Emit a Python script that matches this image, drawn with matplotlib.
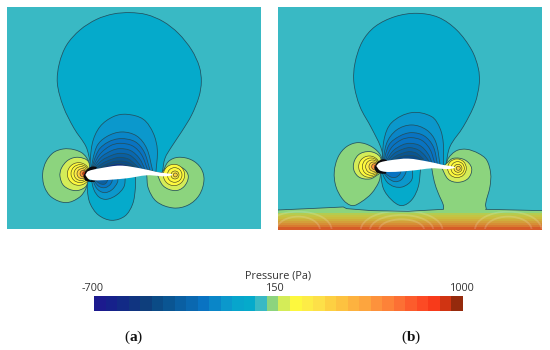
import matplotlib
matplotlib.use("Agg")
import matplotlib.pyplot as plt
import numpy as np
from matplotlib.path import Path
from matplotlib.patches import PathPatch, Circle, Arc

plt.rcParams["font.family"] = ["Open Sans", "DejaVu Sans"]
plt.rcParams["mathtext.fontset"] = "custom"
plt.rcParams["mathtext.bf"] = "Liberation Serif:bold"

# colour bar, one entry per pressure band
band_colors = ["#1c1a8e", "#16218b", "#122a86", "#103480", "#0e3e7c", "#0b4b86", "#0a5592",
               "#0a5fa2", "#0a68b0", "#0973c2", "#0a86c8", "#0b98cc", "#07a5cc", "#05aacb",
               "#39b9c4", "#8cd47e", "#d4ec58", "#fdf83e", "#fdec46", "#fde048", "#fdd042",
               "#fdc240", "#fdb23f", "#fda53e", "#fd923c", "#fd8238", "#fc7034", "#fc5c2c",
               "#fc4a24", "#f83a1a", "#d03412", "#952a0c"]
bar_ticks = ["-700", "150", "1000"]
bar_title = "Pressure (Pa)"

# panel a, contours (band index, outline)
a_contours = [
    (13, [(285,522),(272,490),(258,440),(222,385),(190,320),(172,250),(178,190),(200,135),(240,90),(290,58),(340,42),(390,38),
          (440,44),(490,65),(535,100),(575,150),(598,200),(604,245),(597,290),(575,345),(545,395),(515,440),(495,475),(487,518)]),
    (13, [(262,530),(262,570),(270,610),(295,645),(335,661),(375,648),(398,612),(406,565),(406,530)]),
    (11, [(268,520),(277,430),(300,380),(340,350),(380,343),(430,358),(460,400),(472,450),(468,515)]),
    (10, [(270,520),(290,440),(320,410),(365,396),(410,408),(440,445),(458,512)]),
    (9,  [(270,520),(295,452),(325,426),(362,416),(405,425),(432,455),(450,510)]),
    (9,  [(270,520),(298,465),(330,438),(360,430),(398,438),(425,465),(443,510)]),
    (8,  [(270,520),(302,473),(335,452),(360,446),(392,452),(418,475),(436,510)]),
    (7,  [(270,520),(305,482),(338,465),(360,460),(388,465),(410,483),(428,508)]),
    (6,  [(270,520),(308,490),(340,476),(360,472),(385,477),(402,490),(418,506)]),
    (5,  [(270,520),(312,496),(340,485),(360,483),(382,486),(405,500)]),
    (3,  [(270,520),(315,500),(345,492),(362,491),(395,500)]),
    (11, [(272,530),(282,570),(298,592),(320,598),(350,585),(372,560),(376,530)]),
    (10, [(275,530),(290,565),(312,578),(335,570),(352,548),(354,530)]),
    (9,  [(275,530),(295,558),(315,563),(332,552),(340,530)]),
    (7,  [(275,530),(298,550),(315,552),(326,535)]),
    (15, [(268,525),(268,490),(250,462),(222,449),(190,447),(160,458),(138,485),(128,520),(133,560),(155,592),(198,608),(238,592),(258,565),(264,535)]),
    (15, [(440,522),(445,565),(470,605),(520,624),(565,615),(598,585),(612,540),(603,505),(575,480),(535,472),(505,485),(487,520)]),
    (16, [(268,525),(265,485),(235,472),(205,480),(184,505),(180,530),(192,558),(225,572),(255,562),(266,540)]),
    (16, [(470,520),(490,558),(525,572),(552,560),(565,530),(552,507),(520,497),(495,507),(485,520)]),
]
a_rings_left = [(17,236,522,34),(17,240,521,27),(18,243,521,21),(20,246,521,15),(24,250,521,10),(30,254,521,6)]
a_rings_right = [(17,522,525,32),(17,524,525,22),(18,525,525,12),(20,526,525,6)]
a_foil = [(256,525),(264,514),(300,505),(360,497),(420,505),(470,516),(515,526),(440,526),(380,535),(300,541),(268,538),(256,525)]
a_nose = [(250,530),(258,512),(275,500),(290,504),(264,515),(258,526),(268,540),(285,543),(272,546),(256,542)]

# panel b
b_contours = [
    (13, [(325,505),(320,450),(290,385),(255,320),(237,250),(240,190),(262,125),(300,80),(360,50),(425,40),(490,52),(545,90),
          (590,150),(610,205),(613,250),(600,310),(565,380),(525,440),(512,500)]),
    (13, [(316,510),(325,565),(350,600),(380,617),(410,600),(430,560),(437,505)]),
    (11, [(322,505),(327,420),(350,368),(410,338),(470,350),(495,385),(505,430),(505,502)]),
    (10, [(322,505),(335,430),(365,390),(410,375),(455,390),(482,425),(496,498)]),
    (9,  [(322,505),(342,435),(375,408),(410,398),(448,408),(475,440),(488,495)]),
    (9,  [(322,505),(348,445),(378,420),(408,413),(442,422),(466,450),(480,492)]),
    (8,  [(322,505),(352,455),(382,435),(405,430),(435,437),(458,460),(472,490)]),
    (7,  [(322,505),(356,462),(385,447),(405,443),(430,450),(450,467),(464,488)]),
    (6,  [(322,505),(360,470),(388,458),(405,455),(425,460),(446,478)]),
    (5,  [(322,505),(365,475),(390,467),(405,466),(425,470),(440,480)]),
    (11, [(318,510),(335,545),(358,560),(385,560),(410,540),(413,505)]),
    (10, [(320,510),(340,535),(360,545),(378,540),(392,520),(395,505)]),
    (9,  [(320,510),(345,530),(362,532),(375,522),(380,505)]),
    (15, [(320,500),(318,468),(290,440),(250,428),(215,440),(190,470),(178,515),(183,560),(205,600),(232,617),(260,605),(290,580),(312,545),(318,515)]),
    (15, [(470,502),(478,545),(490,580),(505,615),(512,650),(632,650),(632,612),(645,560),(647,520),(635,480),(610,460),(575,448),(545,452),(520,475),(513,500)]),
    (16, [(320,500),(315,470),(285,455),(250,465),(235,500),(250,530),(285,537),(312,522)]),
    (16, [(500,503),(520,538),(550,547),(580,535),(590,505),(570,480),(535,475),(515,490)]),
]
b_rings_left = [(17,283,500,32),(17,288,500,26),(18,292,500,20),(20,296,500,14),(24,299,500,9),(30,303,500,5)]
b_rings_right = [(17,546,505,28),(17,548,505,20),(18,549,505,12),(20,550,505,6)]
b_foil = [(304,498),(314,488),(345,481),(400,476),(460,485),(500,494),(538,504),(470,505),(410,512),(345,516),(316,512),(304,498)]
b_nose = [(298,505),(306,488),(322,478),(336,483),(314,489),(305,498),(316,512),(334,518),(318,521),(304,517)]

# ground layer in panel b, split where the green lobe joins it
ground_top_left = [(10,630),(100,626),(205,621),(215,626),(290,632),(400,634),(505,628)]
ground_top_right = [(632,628),(802,632)]
ground_y = [638, 644, 650, 656, 662, 668, 674, 680]
ground_colors = ["#b4cc50", "#c4c444", "#cabc3e", "#cfae3c", "#d39f3a", "#d68e36", "#d87a30", "#d65c28"]
# faint rings: centre x, width, height
ground_arcs = [(380,245,116),(380,190,90),(380,135,64),(700,200,110),(700,140,80),(70,200,110),(70,130,80)]


def smooth(pts):
    # tangents through the read points, handle length from each segment, matplotlib draws the beziers
    p = np.array(pts, dtype=float)
    n = len(p)
    t = np.zeros_like(p)
    for i in range(n):
        a = p[max(i-1, 0)]
        b = p[min(i+1, n-1)]
        d = b - a
        t[i] = d / (np.hypot(*d) + 1e-9)
    verts = [p[0]]
    codes = [Path.MOVETO]
    for i in range(n-1):
        L = np.hypot(*(p[i+1] - p[i])) / 3
        verts += [p[i] + t[i]*L, p[i+1] - t[i+1]*L, p[i+1]]
        codes += [Path.CURVE4] * 3
    verts.append(p[0])
    codes.append(Path.CLOSEPOLY)
    return Path(verts, codes)


def draw_panel(ax, contours, rings_l, rings_r, foil, nose):
    ax.set_facecolor(band_colors[14])
    for idx, pts in contours:
        ax.add_patch(PathPatch(smooth(pts), fc=band_colors[idx], ec="#22505f", lw=0.55, zorder=2))
    for rings in (rings_l, rings_r):
        for idx, x, y, r in rings:
            ax.add_patch(Circle((x, y), r, fc=band_colors[idx], ec="#4a4a22", lw=0.45, zorder=3))
    ax.add_patch(PathPatch(smooth(nose), fc="#0a0a10", ec="none", zorder=4))
    ax.add_patch(PathPatch(smooth(foil), fc="white", ec="none", zorder=5))
    ax.set_xticks([])
    ax.set_yticks([])
    for s in ax.spines.values():
        s.set_visible(False)


W, H = 550, 350
fig = plt.figure(figsize=(5.5, 3.5), dpi=100)


def px_axes(x0, y0, x1, y1):
    return fig.add_axes([x0/W, 1 - y1/H, (x1-x0)/W, (y1-y0)/H])


ax_a = px_axes(6.7, 7.3, 261.3, 229.3)
ax_a.set_xlim(20, 784)
ax_a.set_ylim(688, 22)
draw_panel(ax_a, a_contours, a_rings_left, a_rings_right, a_foil, a_nose)

ax_b = px_axes(278.3, 7.3, 542.3, 229.3)
ax_b.set_xlim(10, 802)
ax_b.set_ylim(688, 22)
draw_panel(ax_b, b_contours, b_rings_left, b_rings_right, b_foil, b_nose)

# ground stripes
top = ground_top_left + ground_top_right + [(802,690), (10,690)]
gx, gy = zip(*top)
ax_b.fill(gx, gy, fc=band_colors[15], ec="none", zorder=6)
ax_b.plot(*zip(*ground_top_left), color="#22505f", lw=0.55, zorder=9)
ax_b.plot(*zip(*ground_top_right), color="#22505f", lw=0.55, zorder=9)
for i in range(len(ground_y)):
    ax_b.fill_between([10, 802], ground_y[i], 690, color=ground_colors[i], lw=0, zorder=7)
for x, w, h in ground_arcs:
    ax_b.add_patch(Arc((x, 690), w, h, theta1=180, theta2=360, ec="white", alpha=0.16, lw=1.3, zorder=8))

# colour bar
ax_bar = px_axes(94.3, 295.7, 463.3, 310.7)
ax_bar.imshow(np.arange(len(band_colors))[None, :], aspect="auto", interpolation="nearest",
              cmap=matplotlib.colors.ListedColormap(band_colors))
ax_bar.axis("off")

txt = "#333333"
fig.text(278/W, 1 - 276/H, bar_title, ha="center", va="center", fontsize=7.8, color=txt)
for s, x in zip(bar_ticks, [92.7, 275.7, 462.5]):
    fig.text(x/W, 1 - 288.5/H, s, ha="center", va="center", fontsize=7.8, color=txt)
for s, x in zip(["a", "b"], [133.5, 411]):
    fig.text(x/W, 1 - 337/H, r"($\mathbf{" + s + r"}$)", ha="center", va="center", fontsize=11,
             family="Liberation Serif", color="#111111")

fig.savefig("out.png", dpi=100)
